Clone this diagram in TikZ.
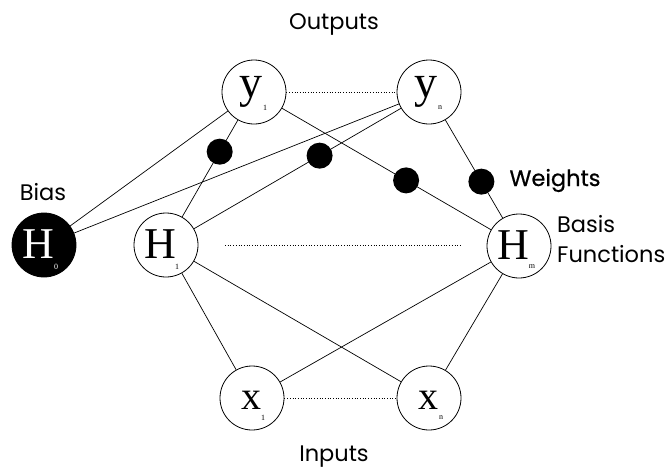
\documentclass[tikz,border=0pt]{standalone}
\usepackage{fontspec}
\setmainfont{Liberation Serif}
\newfontfamily\labelfont{Poppins}
\newfontfamily\heavylabelfont[FakeBold=0.6]{Poppins}
\usetikzlibrary{calc}
\tikzset{
  unit/.style={circle, draw, line width=0.8pt, minimum size=64pt, inner sep=0pt, fill=white},
  biasunit/.style={unit, fill=black},
  letter/.style={font=\fontsize{44}{44}\selectfont, inner sep=0pt},
  bigletter/.style={font=\fontsize{46}{46}\selectfont, inner sep=0pt},
  smallletter/.style={font=\fontsize{40}{40}\selectfont, inner sep=0pt},
  idx/.style={font=\fontsize{8}{8}\selectfont, inner sep=0pt},
  link/.style={line width=0.7pt},
  gap/.style={line width=0.7pt, dotted},
  weight/.style={circle, fill=black, minimum size=26pt, inner sep=0pt},
  caption/.style={font=\labelfont\fontsize{22.5}{30}\selectfont, inner sep=0pt, anchor=base, align=left}
}
\begin{document}
\begin{tikzpicture}[x=1pt, y=-1pt]
  \useasboundingbox (0,0) rectangle (669,474);

  % units
  \node[unit]     (y1) at (254,92)  {};
  \node[unit]     (yn) at (429,92)  {};
  \node[biasunit] (H0) at (44,245)  {};
  \node[unit]     (H1) at (166,245) {};
  \node[unit]     (Hm) at (519,246) {};
  \node[unit]     (x1) at (252,398) {};
  \node[unit]     (xn) at (429,398) {};

  % connections
  \draw[link] (H0) -- (y1);
  \draw[link] (H0) -- (yn);
  \draw[link] (H1) -- (y1);
  \draw[link] (H1) -- (yn);
  \draw[link] (Hm) -- (y1);
  \draw[link] (Hm) -- (yn);
  \draw[link] (H1) -- (x1);
  \draw[link] (H1) -- (xn);
  \draw[link] (Hm) -- (x1);
  \draw[link] (Hm) -- (xn);

  % elided units
  \draw[gap] (y1) -- (yn);
  \draw[gap] (x1) -- (xn);
  \coordinate (hl) at (225,245);
  \coordinate (hr) at (460,245);
  \draw[gap] (hl) -- (hr);

  % weights
  \node[weight] (w1) at ($(H1)!0.61!(y1)$) {};
  \node[weight] (w2) at ($(H1)!0.584!(yn)$) {};
  \node[weight] (w3) at ($(Hm)!0.426!(y1)$) {};
  \node[weight] (w4) at ($(Hm)!0.418!(yn)$) {};

  % unit labels
  \node[bigletter] (ly1) at ($(y1)+(-3,0)$) {y};
  \node[idx]    (sy1) at ($(y1)+(11,16)$) {1};
  \node[bigletter] (lyn) at ($(yn)+(-3,0)$) {y};
  \node[idx]    (syn) at ($(yn)+(11,16)$) {n};
  \node[letter, text=white] (lH0) at ($(H0)+(-6,-1)$) {H};
  \node[idx, text=white]    (sH0) at ($(H0)+(12,22)$) {0};
  \node[letter] (lH1) at ($(H1)+(-6,-1)$) {H};
  \node[idx]    (sH1) at ($(H1)+(11,22)$) {1};
  \node[letter] (lHm) at ($(Hm)+(-6,-1)$) {H};
  \node[idx]    (sHm) at ($(Hm)+(13,21)$) {m};
  \node[smallletter] (lx1) at ($(x1)+(-1,2)$) {x};
  \node[idx]    (sx1) at ($(x1)+(11,20)$) {1};
  \node[smallletter] (lxn) at ($(xn)+(-1,2)$) {x};
  \node[idx]    (sxn) at ($(xn)+(12,20)$) {n};

  % captions
  \node[caption] (outputs) at (334,29)  {Outputs};
  \node[caption] (inputs)  at (334,461) {Inputs};
  \node[caption] (bias)    at (43,200)  {Bias};
  \node[caption, font=\heavylabelfont\fontsize{22.5}{30}\selectfont] (weights) at (555,186) {Weights};
  \node[caption, anchor=base west] (basis) at (557,262) {Basis\\Functions};
\end{tikzpicture}
\end{document}
